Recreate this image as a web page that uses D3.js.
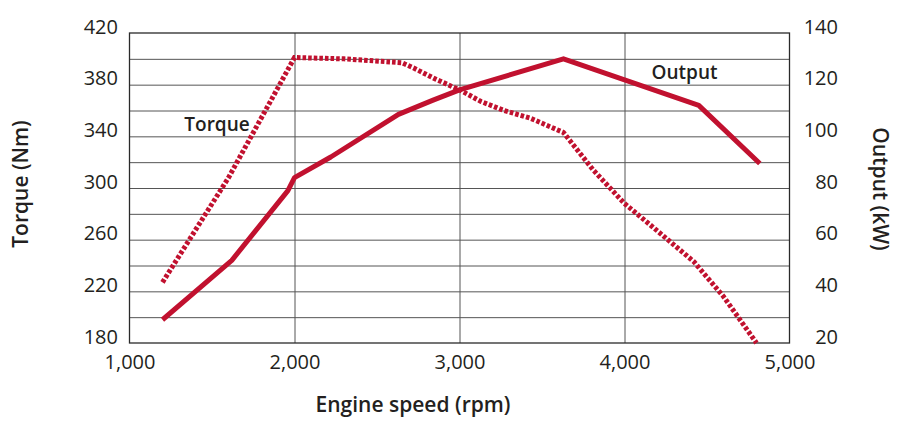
<!DOCTYPE html>
<html>
<head>
<meta charset="utf-8">
<script src="https://cdn.jsdelivr.net/npm/d3@7"></script>
<style>
  body { margin: 0; background: #fff; }
  svg { display: block; font-family: "Open Sans", sans-serif; }
</style>
</head>
<body>
<svg id="chart" width="900" height="433"></svg>
<script>
// rpm values and curves
var torqueRpm = [1200, 1600, 2000, 2300, 2650, 2720, 2860, 3000, 3130, 3270, 3430, 3630, 3810, 4000, 4160, 4420, 4600, 4800];
var torqueNm  = [227, 308, 401, 400, 397, 393, 384, 376, 367, 360, 354, 343, 314, 288, 271, 243, 216, 180];

var outputRpm = [1200, 1620, 1960, 2000, 2220, 2630, 2840, 3000, 3630, 4450, 4820];
var outputKw  = [29, 52, 79, 84, 92, 108.5, 114, 118, 130, 112, 89.5];

var xTicks = [1000, 2000, 3000, 4000, 5000];
var torqueTicks = [180, 220, 260, 300, 340, 380, 420];
var outputTicks = [20, 40, 60, 80, 100, 120, 140];

var red = "#c1112f";
var ink = "#231f20";

var svg = d3.select("#chart");

var x = d3.scaleLinear().domain([1000, 5000]).range([129.5, 789.5]);
var yT = d3.scaleLinear().domain([180, 420]).range([343, 33]);
var yP = d3.scaleLinear().domain([20, 140]).range([343, 33]);

// horizontal grid every 20 Nm
svg.append("g")
  .attr("transform", "translate(" + x.range()[0] + ",0)")
  .call(d3.axisLeft(yT).tickValues(d3.range(200, 420, 20)).tickSize(-(x.range()[1] - x.range()[0])).tickFormat(""))
  .call(g => g.select(".domain").remove())
  .call(g => g.selectAll("line").attr("stroke", "#555").attr("stroke-width", 1));

// vertical grid
svg.append("g")
  .attr("transform", "translate(0," + yT.range()[0] + ")")
  .call(d3.axisBottom(x).tickValues([2000, 3000, 4000]).tickSize(-(yT.range()[0] - yT.range()[1])).tickFormat(""))
  .call(g => g.select(".domain").remove())
  .call(g => g.selectAll("line").attr("stroke", "#555").attr("stroke-width", 1));

// frame
svg.append("rect")
  .attr("x", x.range()[0]).attr("y", yT.range()[1])
  .attr("width", x.range()[1] - x.range()[0])
  .attr("height", yT.range()[0] - yT.range()[1])
  .attr("fill", "none").attr("stroke", "#2a2a2a").attr("stroke-width", 1.3);

// tick labels, baseline sitting on the gridline
function tickStyle(g) {
  g.select(".domain").remove();
  g.attr("font-family", null).attr("font-size", 20);
  g.selectAll("text").attr("dy", 0).attr("fill", ink);
}

svg.append("g")
  .attr("transform", "translate(118,0)")
  .call(d3.axisLeft(yT).tickValues(torqueTicks).tickSize(0).tickPadding(0))
  .call(tickStyle);

svg.append("g")
  .attr("transform", "translate(838,0)")
  .call(d3.axisLeft(yP).tickValues(outputTicks).tickSize(0).tickPadding(0))
  .call(tickStyle);

svg.append("g")
  .attr("transform", "translate(0,369)")
  .call(d3.axisBottom(x).tickValues(xTicks).tickSize(0).tickPadding(0).tickFormat(d3.format(",")))
  .call(tickStyle)
  .call(g => g.selectAll("text").attr("y", 0));

// curves
var torque = torqueRpm.map((r, i) => ({ rpm: r, v: torqueNm[i] }));
var output = outputRpm.map((r, i) => ({ rpm: r, v: outputKw[i] }));

var lineT = d3.line().x(d => x(d.rpm)).y(d => yT(d.v));
var lineP = d3.line().x(d => x(d.rpm)).y(d => yP(d.v));

svg.append("path")
  .datum(output)
  .attr("fill", "none")
  .attr("stroke", red)
  .attr("stroke-width", 5)
  .attr("stroke-linejoin", "round")
  .attr("d", lineP);

svg.append("path")
  .datum(torque)
  .attr("fill", "none")
  .attr("stroke", red)
  .attr("stroke-width", 5)
  .attr("stroke-dasharray", "3.6,2")
  .attr("d", lineT);

// labels
svg.append("text").attr("x", 217).attr("y", 130.5).attr("text-anchor", "middle")
  .attr("font-size", 19).attr("font-weight", 600).attr("fill", ink).text("Torque");
svg.append("text").attr("x", 684.5).attr("y", 78.5).attr("text-anchor", "middle")
  .attr("font-size", 19).attr("font-weight", 600).attr("fill", ink).text("Output");

svg.append("text").attr("x", 413).attr("y", 412).attr("text-anchor", "middle")
  .attr("font-size", 21).attr("font-weight", 600).attr("fill", ink).text("Engine speed (rpm)");
svg.append("text").attr("transform", "translate(28,184) rotate(-90)").attr("text-anchor", "middle")
  .attr("font-size", 21).attr("font-weight", 600).attr("fill", ink).text("Torque (Nm)");
svg.append("text").attr("transform", "translate(873,189) rotate(90)").attr("text-anchor", "middle")
  .attr("font-size", 21).attr("font-weight", 600).attr("fill", ink).text("Output (kW)");
</script>
</body>
</html>
